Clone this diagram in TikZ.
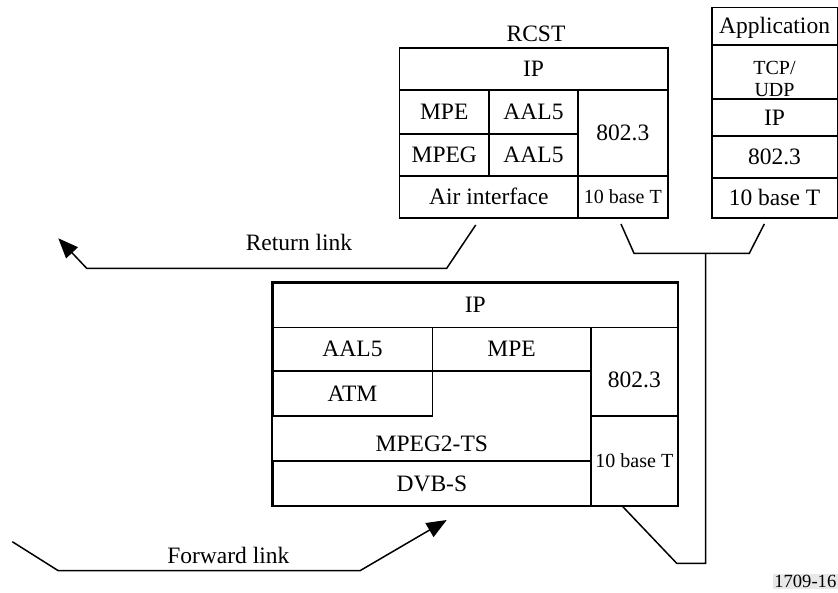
\documentclass[tikz,border=0pt]{standalone}
\usepackage{fontspec}
\setmainfont{Liberation Serif}
\usetikzlibrary{arrows.meta}
\begin{document}
\begin{tikzpicture}[x=1pt,y=-1pt,
  cell/.style={draw, line width=1.6pt, inner sep=0pt, text height=15.5pt, text depth=0pt, font=\fontsize{23.5}{28}\selectfont},
  lbl/.style={inner sep=0pt, font=\fontsize{23.5}{28}\selectfont},
  small/.style={font=\fontsize{20}{24}\selectfont, text height=13.2pt},
  link/.style={line width=1.5pt},
  arr/.style={-{Triangle[length=20pt,width=16pt]}}
]
\useasboundingbox (0,0) rectangle (838,592);

% RCST
\node[lbl, anchor=base] (rcstlbl) at (536,41.5) {RCST};
\node[cell, minimum width=268.2pt, minimum height=42pt] (rip) at (533.6,69) {IP};
\node[cell, minimum width=89.5pt, minimum height=44pt] (rmpe) at (444.25,112) {MPE};
\node[cell, minimum width=89pt, minimum height=44pt] (raal1) at (533.5,112) {AAL5};
\node[cell, minimum width=89.5pt, minimum height=42pt] (rmpeg) at (444.25,155) {MPEG};
\node[cell, minimum width=89pt, minimum height=42pt] (raal2) at (533.5,155) {AAL5};
\node[cell, minimum width=89.7pt, minimum height=86pt] (r8023) at (622.85,133) {802.3};
\node[cell, minimum width=178.5pt, minimum height=42pt] (rair) at (488.75,197) {Air interface};
\node[cell, small, minimum width=89.7pt, minimum height=42pt] (rbase) at (622.85,197) {10 base T};

% Application
\node[cell, minimum width=125.6pt, minimum height=37.7pt] (aapp) at (774.5,26.15) {Application};
\node[cell, minimum width=125.6pt, minimum height=54pt] (atcp) at (774.5,72) {};
\node[lbl, small, text depth=0pt] (atcptxt) at (774.5,68) {TCP/};
\node[lbl, small, text depth=0pt] (audptxt) at (774.5,90) {UDP};
\node[cell, minimum width=125.6pt, minimum height=37pt] (aip) at (774.5,117.5) {IP};
\node[cell, minimum width=125.6pt, minimum height=42pt] (a8023) at (774.5,157) {802.3};
\node[cell, minimum width=125.6pt, minimum height=40pt] (abase) at (774.5,198) {10 base T};

% Hub / gateway stack
\node[cell, minimum width=405pt, minimum height=44.6pt] (bip) at (475.2,305) {IP};
\node[cell, minimum width=159.6pt, minimum height=43.7pt] (baal) at (352.5,349.15) {AAL5};
\node[cell, minimum width=158.7pt, minimum height=43.7pt] (bmpe) at (511.65,349.15) {MPE};
\node[cell, minimum width=159.6pt, minimum height=44.7pt] (batm) at (352.5,393.35) {ATM};
\node[cell, minimum width=86.7pt, minimum height=88.4pt] (b8023) at (634.35,371.5) {};
\node[lbl, text height=15.5pt, text depth=0pt] (b8023txt) at (634.35,380) {802.3};
\node[cell, small, minimum width=86.7pt, minimum height=89.8pt] (bbase) at (634.35,460.6) {10 base T};
\node[cell, minimum width=318.3pt, minimum height=44.5pt] (bdvb) at (431.85,483.25) {DVB-S};
\node[lbl, text height=15.5pt, text depth=0pt] (bmpeg) at (431.85,444) {MPEG2-TS};
\draw[line width=1.6pt] (bip.north west) rectangle (bbase.south east);

% Return link
\coordinate (ret0) at (475.7,225);
\coordinate (ret1) at (446.7,268.3);
\coordinate (ret2) at (86.7,268.3);
\coordinate (ret3) at (58.3,238.3);
\draw[link, arr] (ret0) -- (ret1) -- (ret2) -- (ret3);
\node[lbl, anchor=base] (retlbl) at (299,250.7) {Return link};

% Forward link
\coordinate (fw0) at (12.3,541.7);
\coordinate (fw1) at (58.3,570.7);
\coordinate (fw2) at (360,570.7);
\coordinate (fw3) at (446.7,520);
\draw[link, arr] (fw0) -- (fw1) -- (fw2) -- (fw3);
\node[lbl, anchor=base] (fwlbl) at (228.3,563.3) {Forward link};

% Ethernet connection
\coordinate (e0) at (621,224);
\coordinate (e1) at (634,253.3);
\coordinate (e2) at (749.3,253.3);
\coordinate (e3) at (764.3,224);
\coordinate (ej) at (705.5,253.3);
\coordinate (e4) at (705.5,563.3);
\coordinate (e5) at (676.7,563.3);
\coordinate (e6) at (621.7,505.5);
\draw[link] (e0) -- (e1) -- (e2) -- (e3);
\draw[link] (ej) -- (e4) -- (e5) -- (e6);

% Figure number
\node[fill=black!9, inner sep=1.5pt, anchor=east, font=\fontsize{18.6}{20}\selectfont] (fignum) at (838,581.5) {1709-16};
\end{tikzpicture}
\end{document}
